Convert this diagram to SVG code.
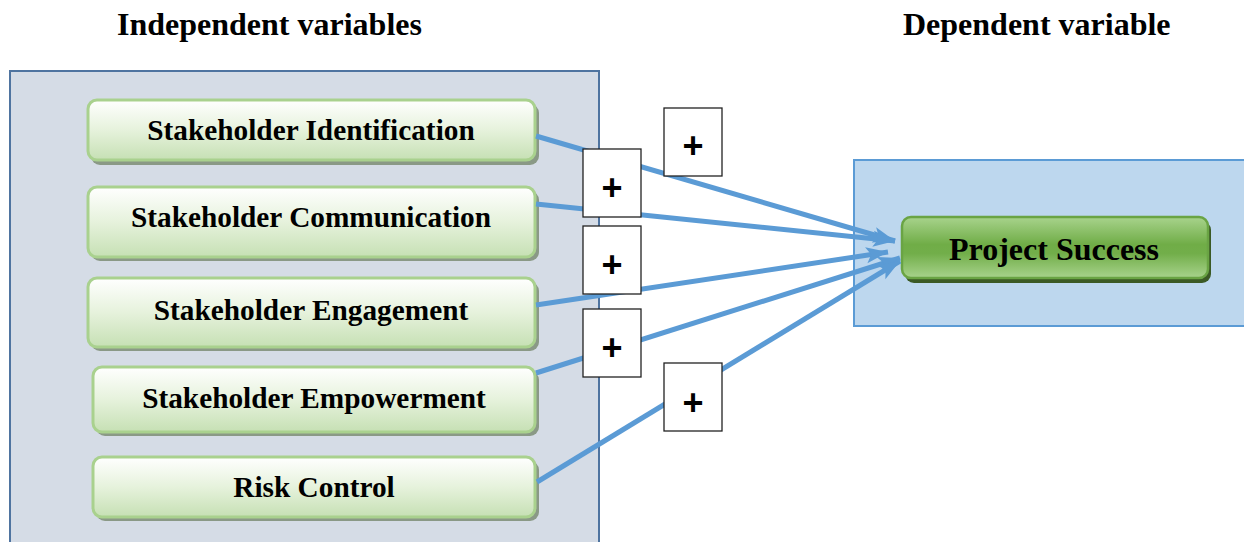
<svg xmlns="http://www.w3.org/2000/svg" width="1244" height="542" viewBox="0 0 1244 542">
<style>
.title{font-family:"Liberation Serif","Times New Roman",serif;font-weight:bold;font-size:32px;fill:#000}
.lbl{font-family:"Liberation Serif","Times New Roman",serif;font-weight:bold;font-size:29.3px;fill:#000;text-anchor:middle}
.plbl{font-family:"Liberation Serif","Times New Roman",serif;font-weight:bold;font-size:32px;fill:#000;text-anchor:middle}
.node{fill:url(#gNode);stroke:#a9d18e;stroke-width:3}
.shadow{fill:#8a9986}
.pshadow{fill:#3b5a25}
.pnode{fill:url(#gProj);stroke:#6aa444;stroke-width:2.5}
.conn{fill:none;stroke:#5b9bd5;stroke-width:5;marker-end:url(#arr)}
.pbox{fill:#fff;stroke:#222;stroke-width:1.3}
.plus{font-family:"Liberation Sans",Arial,sans-serif;font-weight:bold;font-size:36px;fill:#000;text-anchor:middle}
</style>
<defs>
<linearGradient id="gNode" x1="0" y1="0" x2="0" y2="1">
<stop offset="0" stop-color="#ffffff"/>
<stop offset="0.5" stop-color="#e6f2dc"/>
<stop offset="1" stop-color="#c6e0b4"/>
</linearGradient>
<linearGradient id="gProj" x1="0" y1="0" x2="0" y2="1">
<stop offset="0" stop-color="#a8d38c"/>
<stop offset="0.45" stop-color="#70ad47"/>
<stop offset="0.6" stop-color="#72ae4a"/>
<stop offset="1" stop-color="#a8d38c"/>
</linearGradient>
<marker id="arr" markerUnits="userSpaceOnUse" markerWidth="30" markerHeight="24" refX="22" refY="10" orient="auto" viewBox="0 0 30 20">
<path d="M0,2 L22,10 L0,18 L5,10 Z" fill="#5b9bd5"/>
</marker>
</defs>
<rect width="1244" height="542" fill="#fff"/>
<text class="title" x="117" y="35">Independent variables</text>
<text class="title" x="903" y="35">Dependent variable</text>
<g id="panel-independent"><rect x="10" y="71" width="589" height="480" fill="#d5dce6" stroke="#4f74a0" stroke-width="2"/></g>
<g id="panel-dependent"><rect x="854" y="160" width="400" height="166" fill="#bdd7ee" stroke="#5b9bd5" stroke-width="2"/></g>
<g id="n1"><rect class="shadow" x="91" y="104" width="448" height="61" rx="9"/><rect class="node" x="88" y="100" width="447" height="60" rx="9"/><text class="lbl" x="311" y="140">Stakeholder Identification</text></g>
<g id="n2"><rect class="shadow" x="91" y="191" width="448" height="70" rx="9"/><rect class="node" x="88" y="187" width="447" height="70" rx="9"/><text class="lbl" x="311" y="227">Stakeholder Communication</text></g>
<g id="n3"><rect class="shadow" x="91" y="282" width="448" height="69" rx="9"/><rect class="node" x="88" y="278" width="447" height="69" rx="9"/><text class="lbl" x="311" y="320">Stakeholder Engagement</text></g>
<g id="n4"><rect class="shadow" x="96" y="371" width="443" height="65" rx="9"/><rect class="node" x="93" y="367" width="442" height="65" rx="9"/><text class="lbl" x="314" y="408">Stakeholder Empowerment</text></g>
<g id="n5"><rect class="shadow" x="96" y="461" width="443" height="60" rx="9"/><rect class="node" x="93" y="457" width="442" height="60" rx="9"/><text class="lbl" x="314" y="497">Risk Control</text></g>
<g id="n-project"><rect class="pshadow" x="905" y="221" width="306" height="62" rx="9"/><rect class="pnode" x="902" y="217" width="306" height="61" rx="9"/><text class="plbl" x="1054" y="260">Project Success</text></g>
<g id="connectors">
<line class="conn" x1="536" y1="136" x2="895" y2="241"/>
<line class="conn" x1="536" y1="204" x2="895" y2="241"/>
<line class="conn" x1="536" y1="305" x2="888" y2="252"/>
<line class="conn" x1="536" y1="373" x2="900" y2="258"/>
<line class="conn" x1="537" y1="482" x2="900" y2="261"/>
</g>
<g id="plus-boxes">
<rect class="pbox" x="664" y="108" width="58" height="68"/><text class="plus" x="693" y="158">+</text>
<rect class="pbox" x="583" y="149" width="58" height="68"/><text class="plus" x="612" y="200">+</text>
<rect class="pbox" x="583" y="226" width="58" height="68"/><text class="plus" x="612" y="277">+</text>
<rect class="pbox" x="583" y="309" width="58" height="68"/><text class="plus" x="612" y="360">+</text>
<rect class="pbox" x="664" y="363" width="58" height="68"/><text class="plus" x="693" y="415">+</text>
</g>
</svg>
